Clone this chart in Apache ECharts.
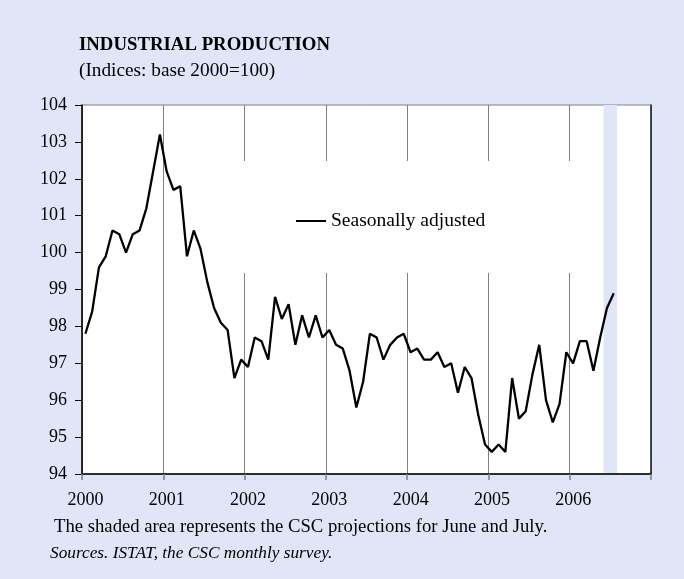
<!DOCTYPE html>
<html><head><meta charset="utf-8">
<script src="https://cdn.jsdelivr.net/npm/echarts@6/dist/echarts.min.js"></script>
<style>html,body{margin:0;padding:0;background:#e0e6f8}#c{width:684px;height:579px}</style>
</head><body><div id="c"></div>
<script>
// Year tick labels (one per 12 months starting Jan 2000)
const years = ['2000','2001','2002','2003','2004','2005','2006'];
// Monthly industrial production index, seasonally adjusted, Jan 2000 - Jul 2006
const production = [
  97.8, 98.4, 99.6, 99.9, 100.6, 100.5, 100.0, 100.5, 100.6, 101.2, 102.2, 103.2,
  102.2, 101.7, 101.8, 99.9, 100.6, 100.1, 99.2, 98.5, 98.1, 97.9, 96.6, 97.1,
  96.9, 97.7, 97.6, 97.1, 98.8, 98.2, 98.6, 97.5, 98.3, 97.7, 98.3, 97.7,
  97.9, 97.5, 97.4, 96.8, 95.8, 96.5, 97.8, 97.7, 97.1, 97.5, 97.7, 97.8,
  97.3, 97.4, 97.1, 97.1, 97.3, 96.9, 97.0, 96.2, 96.9, 96.6, 95.6, 94.8,
  94.6, 94.8, 94.6, 96.6, 95.5, 95.7, 96.7, 97.5, 96.0, 95.4, 95.9, 97.3,
  97.0, 97.6, 97.6, 96.8, 97.7, 98.5, 98.9
];
// Projection months (June and July 2006), as month offsets from Jan 2000
const projectionStart = 77;
const projectionEnd = 79;
const yMin = 94, yMax = 104;

const BG = '#e0e6f8';
const FONT = 'Liberation Serif';
const chart = echarts.init(document.getElementById('c'), null, {renderer:'canvas'});
chart.setOption({
  backgroundColor: BG,
  animation: false,
  textStyle: {fontFamily: FONT, color: '#000'},
  title: [
    {text: 'INDUSTRIAL PRODUCTION', left: 79, top: 36, padding: 0,
     textStyle: {fontFamily: FONT, fontSize: 18.8, fontWeight: 'bold', color: '#000'}},
    {text: '(Indices: base 2000=100)', left: 79, top: 61, padding: 0,
     textStyle: {fontFamily: FONT, fontSize: 19.3, fontWeight: 'normal', color: '#000'}},
    {text: 'The shaded area represents the CSC projections for June and July.', left: 54, top: 518, padding: 0,
     textStyle: {fontFamily: FONT, fontSize: 18.7, fontWeight: 'normal', color: '#000'}},
    {text: 'Sources. ISTAT, the CSC monthly survey.', left: 50, top: 545, padding: 0,
     textStyle: {fontFamily: FONT, fontSize: 17.3, fontStyle: 'italic', fontWeight: 'normal', color: '#000'}}
  ],
  legend: {
    show: true, left: 296, top: 211, padding: 0,
    itemWidth: 30, itemHeight: 2, icon: 'rect',
    textStyle: {fontFamily: FONT, fontSize: 19.5, color: '#000'},
    data: [{name: 'Seasonally adjusted', itemStyle: {color: '#000'}}]
  },
  graphic: [
    {type: 'rect', z: 1, shape: {x: 205, y: 161, width: 375, height: 112},
     style: {fill: '#fff'}, silent: true}
  ],
  grid: {left: 82, right: 33, top: 105, bottom: 105, show: true,
         backgroundColor: '#fff', borderColor: '#808080', borderWidth: 1},
  xAxis: [{
    type: 'value', min: 0, max: 84, interval: 12,
    axisLine: {show: true, lineStyle: {color: '#000', width: 1.5}},
    axisTick: {show: true, length: 6, lineStyle: {color: '#808080', width: 1.5}},
    axisLabel: {margin: 17, fontFamily: FONT, fontSize: 18, color: '#000', padding: [0,0,0,7],
                formatter: v => years[v / 12] || ''},
    splitLine: {show: true, lineStyle: {color: '#808080', width: 1}}
  }],
  yAxis: [{
    type: 'value', min: yMin, max: yMax, interval: 1,
    axisLine: {show: true, lineStyle: {color: '#000', width: 1.5}},
    axisTick: {show: true, length: 7, lineStyle: {color: '#000', width: 1}},
    axisLabel: {margin: 15, fontFamily: FONT, fontSize: 18, color: '#000'},
    splitLine: {show: false}
  }, {
    type: 'value', min: yMin, max: yMax, interval: 1, position: 'right',
    axisLine: {show: true, lineStyle: {color: '#222', width: 1.5}},
    axisTick: {show: false}, axisLabel: {show: false}, splitLine: {show: false}
  }],
  series: [{
    name: 'Seasonally adjusted', type: 'line', z: 3,
    data: production.map((v, i) => [i + 0.5, v]),
    showSymbol: false, symbol: 'none',
    lineStyle: {color: '#000', width: 2.3},
    itemStyle: {color: '#000'},
    markArea: {
      silent: true, z: 1,
      itemStyle: {color: BG, opacity: 1},
      data: [[{xAxis: projectionStart, yAxis: yMin + 0.03}, {xAxis: projectionEnd, yAxis: yMax + 0.02}]]
    }
  }]
});
</script></body></html>
